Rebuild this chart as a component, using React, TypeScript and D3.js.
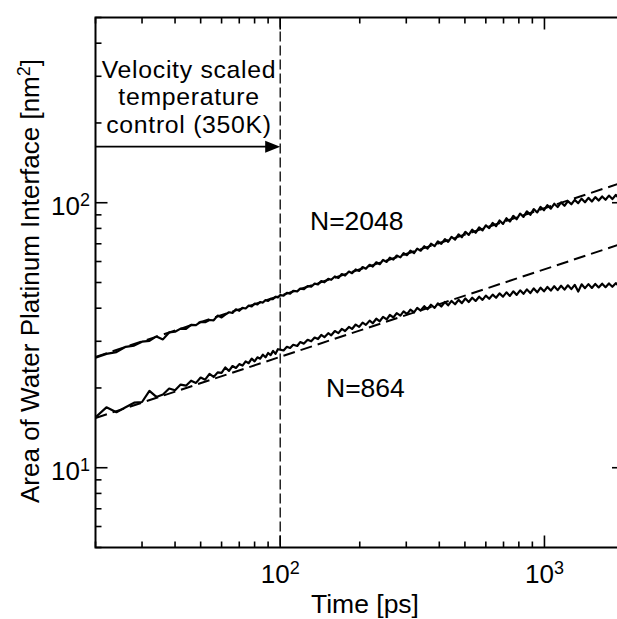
import React from "react";
import * as d3 from "d3";

// Time samples [ps]
const TIME_EARLY = [
  20, 22, 24, 26, 28, 30, 32, 34, 36, 38,
  40, 42, 44, 46, 48, 50, 52, 54, 56, 58,
  60, 62, 64, 66, 68, 70, 72, 74, 76, 78,
  80, 82, 84, 86, 88, 90, 92, 94, 96, 98,
];
const TIME_LATE = [
  100, 103, 106, 109, 112, 116, 119, 123, 127, 131,
  135, 139, 143, 147, 152, 156, 161, 166, 171, 176,
  182, 187, 193, 199, 205, 211, 218, 224, 231, 238,
  245, 253, 260, 268, 276, 285, 293, 302, 311, 321,
  330, 340, 351, 361, 372, 384, 395, 407, 420, 432,
  445, 459, 473, 487, 502, 517, 533, 549, 566, 583,
  600, 618, 637, 656, 676, 697, 718, 740, 762, 785,
  809, 833, 858, 884, 911, 939, 967, 996, 1026, 1057,
  1089, 1122, 1156, 1191, 1227, 1264, 1302, 1342, 1382, 1424,
  1467, 1512, 1557, 1604, 1653, 1703, 1754, 1807, 1862, 1919,
  1977, 2000,
];

// Area [nm^2], N=2048
const AREA_2048_EARLY = [
  26.0, 26.9, 27.3, 28.6, 28.9, 29.9, 30.1, 31.3, 30.5, 32.4,
  32.6, 33.5, 33.4, 34.6, 34.5, 35.5, 35.4, 36.1, 36.0, 37.5,
  36.9, 37.8, 38.6, 38.4, 39.6, 39.1, 40.1, 39.9, 40.9, 40.6,
  41.6, 41.3, 42.2, 42.0, 42.9, 42.6, 43.4, 43.3, 44.2, 43.9,
];
const AREA_2048_LATE = [
  44.8, 44.6, 45.7, 45.4, 46.5, 46.3, 47.4, 47.2, 48.5, 48.2,
  49.5, 49.2, 50.6, 50.1, 51.6, 51.2, 52.7, 52.0, 53.8, 53.1,
  55.0, 54.2, 56.0, 55.3, 57.2, 56.4, 58.3, 57.4, 59.6, 58.6,
  60.8, 59.8, 62.0, 61.0, 63.2, 62.2, 64.5, 63.4, 65.9, 64.6,
  67.1, 65.9, 68.5, 67.1, 70.0, 68.6, 71.5, 69.9, 72.9, 71.2,
  74.3, 72.6, 75.9, 74.1, 77.6, 75.6, 79.1, 77.0, 80.7, 78.6,
  82.2, 80.2, 83.9, 81.6, 85.7, 83.2, 87.4, 84.9, 89.2, 86.6,
  91.0, 88.4, 92.8, 90.0, 94.6, 91.9, 96.4, 93.7, 97.9, 95.0,
  99.1, 96.3, 100.3, 97.4, 101.4, 98.7, 102.5, 99.6, 103.6, 100.4,
  104.3, 101.1, 105.0, 101.9, 105.6, 102.6, 106.4, 103.2, 107.0, 103.9,
  107.6, 105.5,
];

// Area [nm^2], N=864
const AREA_864_EARLY = [
  15.5, 16.9, 16.2, 16.9, 17.6, 17.7, 19.5, 18.5, 18.9, 19.9,
  19.6, 20.6, 20.4, 21.3, 20.9, 21.9, 21.5, 22.6, 22.0, 22.9,
  22.8, 23.9, 23.2, 24.2, 23.8, 24.6, 24.3, 25.2, 24.8, 25.8,
  25.2, 26.1, 25.8, 26.7, 26.1, 27.1, 26.6, 27.6, 26.9, 28.0,
];
const AREA_864_LATE = [
  27.9, 27.7, 28.6, 28.3, 29.1, 28.8, 29.8, 29.4, 30.4, 30.0,
  31.0, 30.6, 31.7, 31.1, 32.2, 31.6, 32.8, 32.2, 33.4, 32.8,
  34.0, 33.4, 34.7, 34.0, 35.3, 34.6, 35.9, 35.1, 36.5, 35.7,
  37.1, 36.3, 37.7, 36.9, 38.3, 37.5, 38.9, 38.0, 39.5, 38.6,
  40.1, 39.2, 40.7, 39.6, 41.2, 40.1, 41.7, 40.6, 42.2, 41.0,
  42.6, 41.4, 43.0, 41.8, 43.5, 42.2, 43.8, 42.6, 44.2, 43.0,
  44.6, 43.4, 45.0, 43.8, 45.5, 44.2, 45.9, 44.5, 46.3, 44.9,
  46.7, 45.3, 47.1, 45.6, 47.5, 45.9, 47.8, 46.3, 48.1, 46.6,
  48.4, 46.8, 48.6, 47.0, 48.8, 47.2, 49.0, 46.2, 49.2, 47.6,
  49.3, 47.7, 49.4, 47.9, 49.5, 48.0, 49.6, 48.2, 49.7, 48.4,
  49.8, 49.2,
];

// Power-law fits (dashed)
const FIT_TIMES = [20, 2000];
const FIT_2048 = [26.2, 119.8];
const FIT_864 = [15.4, 70.5];

const X_DOMAIN = [20, 2000];
const Y_DOMAIN = [5, 500];
const THERMOSTAT_END = 100;
const SERIES_LABELS = ["N=2048", "N=864"];
const NOTE_LINES = ["Velocity scaled", "temperature", "control (350K)"];
const X_TITLE = "Time [ps]";
const Y_TITLE = "Area of Water Platinum Interface [nm";

const FONT = "'Liberation Sans', Arial, Helvetica, sans-serif";

function zip(ts: number[], vs: number[]): [number, number][] {
  const n = Math.min(ts.length, vs.length);
  const out: [number, number][] = [];
  for (let i = 0; i < n; i++) out.push([ts[i], vs[i]]);
  return out;
}

export default function App() {
  const W = 617, H = 619;
  const left = 95.5, right = 624, top = 17.5, bottom = 547.5;
  const x = d3.scaleLog().domain(X_DOMAIN).range([left, right]);
  const y = d3.scaleLog().domain(Y_DOMAIN).range([bottom, top]);

  const times = [...TIME_EARLY, ...TIME_LATE];
  const d2048 = zip(times, [...AREA_2048_EARLY, ...AREA_2048_LATE]);
  const d864 = zip(times, [...AREA_864_EARLY, ...AREA_864_LATE]);
  const f2048 = zip(FIT_TIMES, FIT_2048);
  const f864 = zip(FIT_TIMES, FIT_864);

  const line = d3
    .line<[number, number]>()
    .x((d) => x(d[0]))
    .y((d) => y(d[1]));

  const isMajor = (v: number) => Math.abs(Math.log10(v) - Math.round(Math.log10(v))) < 1e-9;
  const xTicks = x.ticks();
  const yTicks = y.ticks();
  const majLen = 12, minLen = 6;

  const xThermo = x(THERMOSTAT_END);
  const arrowY = 146.7;
  const FS = 26.5;
  const TFS = 26;

  return (
    <svg
      width={W}
      height={H}
      style={{ position: "absolute", left: 0, top: 0, background: "#fff" }}
      fontFamily={FONT}
    >
      <rect x={0} y={0} width={W} height={H} fill="#fff" />
      <defs>
        <clipPath id="plotClip">
          <rect x={left} y={top} width={right - left} height={bottom - top} />
        </clipPath>
      </defs>

      {/* data */}
      <g clipPath="url(#plotClip)" fill="none" stroke="#000">
        <path d={line(f2048) || ""} strokeWidth={2} strokeDasharray="12 6" />
        <path d={line(f864) || ""} strokeWidth={2} strokeDasharray="12 6" />
        <path d={line(d2048) || ""} strokeWidth={2.2} strokeLinejoin="round" />
        <path d={line(d864) || ""} strokeWidth={2.2} strokeLinejoin="round" />
        <line x1={xThermo} x2={xThermo} y1={top} y2={bottom} strokeWidth={1.3} strokeDasharray="10 4" />
      </g>

      {/* arrow */}
      <line x1={left} x2={xThermo - 12} y1={arrowY} y2={arrowY} stroke="#000" strokeWidth={1.8} />
      <path
        d={`M${xThermo},${arrowY} L${xThermo - 15},${arrowY - 6} L${xThermo - 15},${arrowY + 6} Z`}
        fill="#000"
      />

      {/* frame */}
      <rect x={left} y={top} width={right - left} height={bottom - top} fill="none" stroke="#000" strokeWidth={2} />

      {/* ticks */}
      <g stroke="#000" strokeWidth={1.6}>
        {xTicks.map((t, i) => {
          const len = isMajor(t) ? majLen : minLen;
          const px = x(t);
          return (
            <g key={"xt" + i}>
              <line x1={px} x2={px} y1={bottom} y2={bottom - len} />
              <line x1={px} x2={px} y1={top} y2={top + len} />
            </g>
          );
        })}
        {yTicks.map((t, i) => {
          const len = isMajor(t) ? majLen : minLen;
          const py = y(t);
          return (
            <g key={"yt" + i}>
              <line x1={left} x2={left + len} y1={py} y2={py} />
              <line x1={right} x2={right - len} y1={py} y2={py} />
            </g>
          );
        })}
      </g>

      {/* tick labels */}
      <g fontSize={TFS} fill="#000">
        {xTicks.filter(isMajor).map((t, i) => (
          <text key={"xl" + i} x={x(t)} y={583} textAnchor="middle">
            10
            <tspan dy={-9} fontSize={18}>{String(Math.round(Math.log10(t)))}</tspan>
          </text>
        ))}
        {yTicks.filter(isMajor).map((t, i) => (
          <text key={"yl" + i} x={90} y={y(t) + 12} textAnchor="end">
            10
            <tspan dy={-9} fontSize={18}>{String(Math.round(Math.log10(t)))}</tspan>
          </text>
        ))}
      </g>

      {/* axis titles */}
      <text x={365} y={613} textAnchor="middle" fontSize={FS}>{X_TITLE}</text>
      <text transform="translate(39,281) rotate(-90)" textAnchor="middle" fontSize={26}>
        {Y_TITLE}
        <tspan dy={-9} fontSize={18}>2</tspan>
        <tspan dy={9}>]</tspan>
      </text>

      {/* annotation lines */}
      <g fontSize={24.8} textAnchor="middle" letterSpacing={0.7}>
        {NOTE_LINES.map((s, i) => (
          <text key={"n" + i} x={189} y={77.5 + i * 27.8}>{s}</text>
        ))}
      </g>
      <text x={310} y={230} fontSize={FS}>{SERIES_LABELS[0]}</text>
      <text x={326} y={397} fontSize={FS}>{SERIES_LABELS[1]}</text>
    </svg>
  );
}
